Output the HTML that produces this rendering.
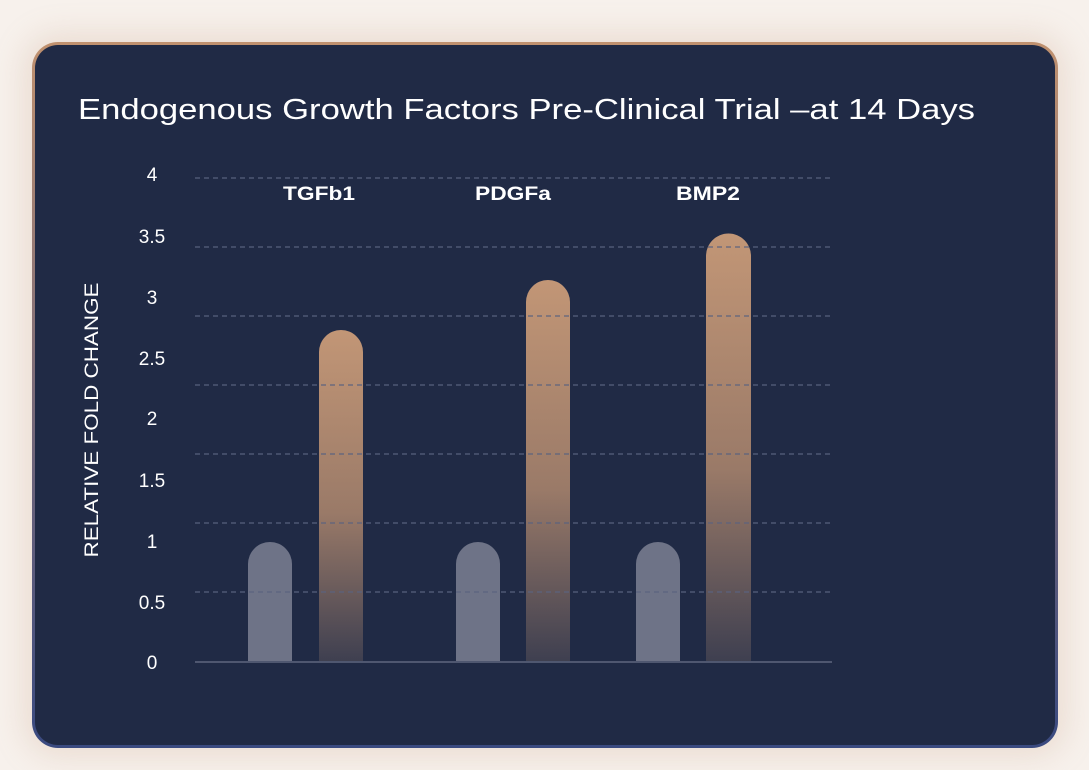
<!DOCTYPE html><html><head><style>
body{margin:0;width:1089px;height:770px;background:#f7f1ec;overflow:hidden;font-family:"Liberation Sans",sans-serif}
.card{position:absolute;left:32px;top:42px;width:1026px;height:706px;border-radius:26px;background:linear-gradient(#c0916f,#7a6a78 50%,#3a4a80);box-shadow:0 0 30px 8px rgba(200,160,130,0.25)}
.in{position:absolute;left:3px;top:3px;right:3px;bottom:3px;border-radius:23px;background:#202a45}
</style></head><body>
<div class="card"><div class="in"></div></div>
<svg width="1089" height="770" style="position:absolute;left:0;top:0">
<defs><linearGradient id="g" x1="0" y1="0" x2="0" y2="1" gradientUnits="objectBoundingBox"><stop offset="0" stop-color="#c29676"/><stop offset="0.55" stop-color="#9a7a68"/><stop offset="1" stop-color="#3e3f50"/></linearGradient></defs>
<text x="78" y="119" fill="#fff" font-size="29" textLength="897" lengthAdjust="spacingAndGlyphs">Endogenous Growth Factors Pre-Clinical Trial –at 14 Days</text>
<g fill="#fff" font-size="19" text-anchor="middle">
<text x="152" y="181">4</text><text x="152" y="243">3.5</text><text x="152" y="304">3</text><text x="152" y="365">2.5</text><text x="152" y="425">2</text><text x="152" y="487">1.5</text><text x="152" y="548">1</text><text x="152" y="609">0.5</text><text x="152" y="669">0</text></g>
<text transform="translate(98,420) rotate(-90)" fill="#fff" font-size="19" text-anchor="middle" textLength="275" lengthAdjust="spacingAndGlyphs">RELATIVE FOLD CHANGE</text>
<g fill="#fff" font-size="19" font-weight="bold" text-anchor="middle"><text x="319" y="200" textLength="72" lengthAdjust="spacingAndGlyphs">TGFb1</text><text x="513" y="200" textLength="76" lengthAdjust="spacingAndGlyphs">PDGFa</text><text x="708" y="200" textLength="64" lengthAdjust="spacingAndGlyphs">BMP2</text></g>
<g fill="#6e7387"><path d="M248 662V564a22 22 0 0 1 44 0V662Z"/><path d="M456 662V564a22 22 0 0 1 44 0V662Z"/><path d="M636 662V564a22 22 0 0 1 44 0V662Z"/></g>
<path d="M319 662V352a22 22 0 0 1 44 0V662Z" fill="url(#g)"/>
<path d="M526 662V302a22 22 0 0 1 44 0V662Z" fill="url(#g)"/>
<path d="M706 662V256a22.5 22.5 0 0 1 45 0V662Z" fill="url(#g)"/>
<g stroke="#5a6380" stroke-opacity="0.8" stroke-width="1.5" stroke-dasharray="5 4"><line x1="195" x2="832" y1="178" y2="178"/><line x1="195" x2="832" y1="247" y2="247"/><line x1="195" x2="832" y1="316" y2="316"/><line x1="195" x2="832" y1="385" y2="385"/><line x1="195" x2="832" y1="454" y2="454"/><line x1="195" x2="832" y1="523" y2="523"/><line x1="195" x2="832" y1="592" y2="592"/></g>
<line x1="195" x2="832" y1="662" y2="662" stroke="#4f5770" stroke-width="2"/>
</svg></body></html>
